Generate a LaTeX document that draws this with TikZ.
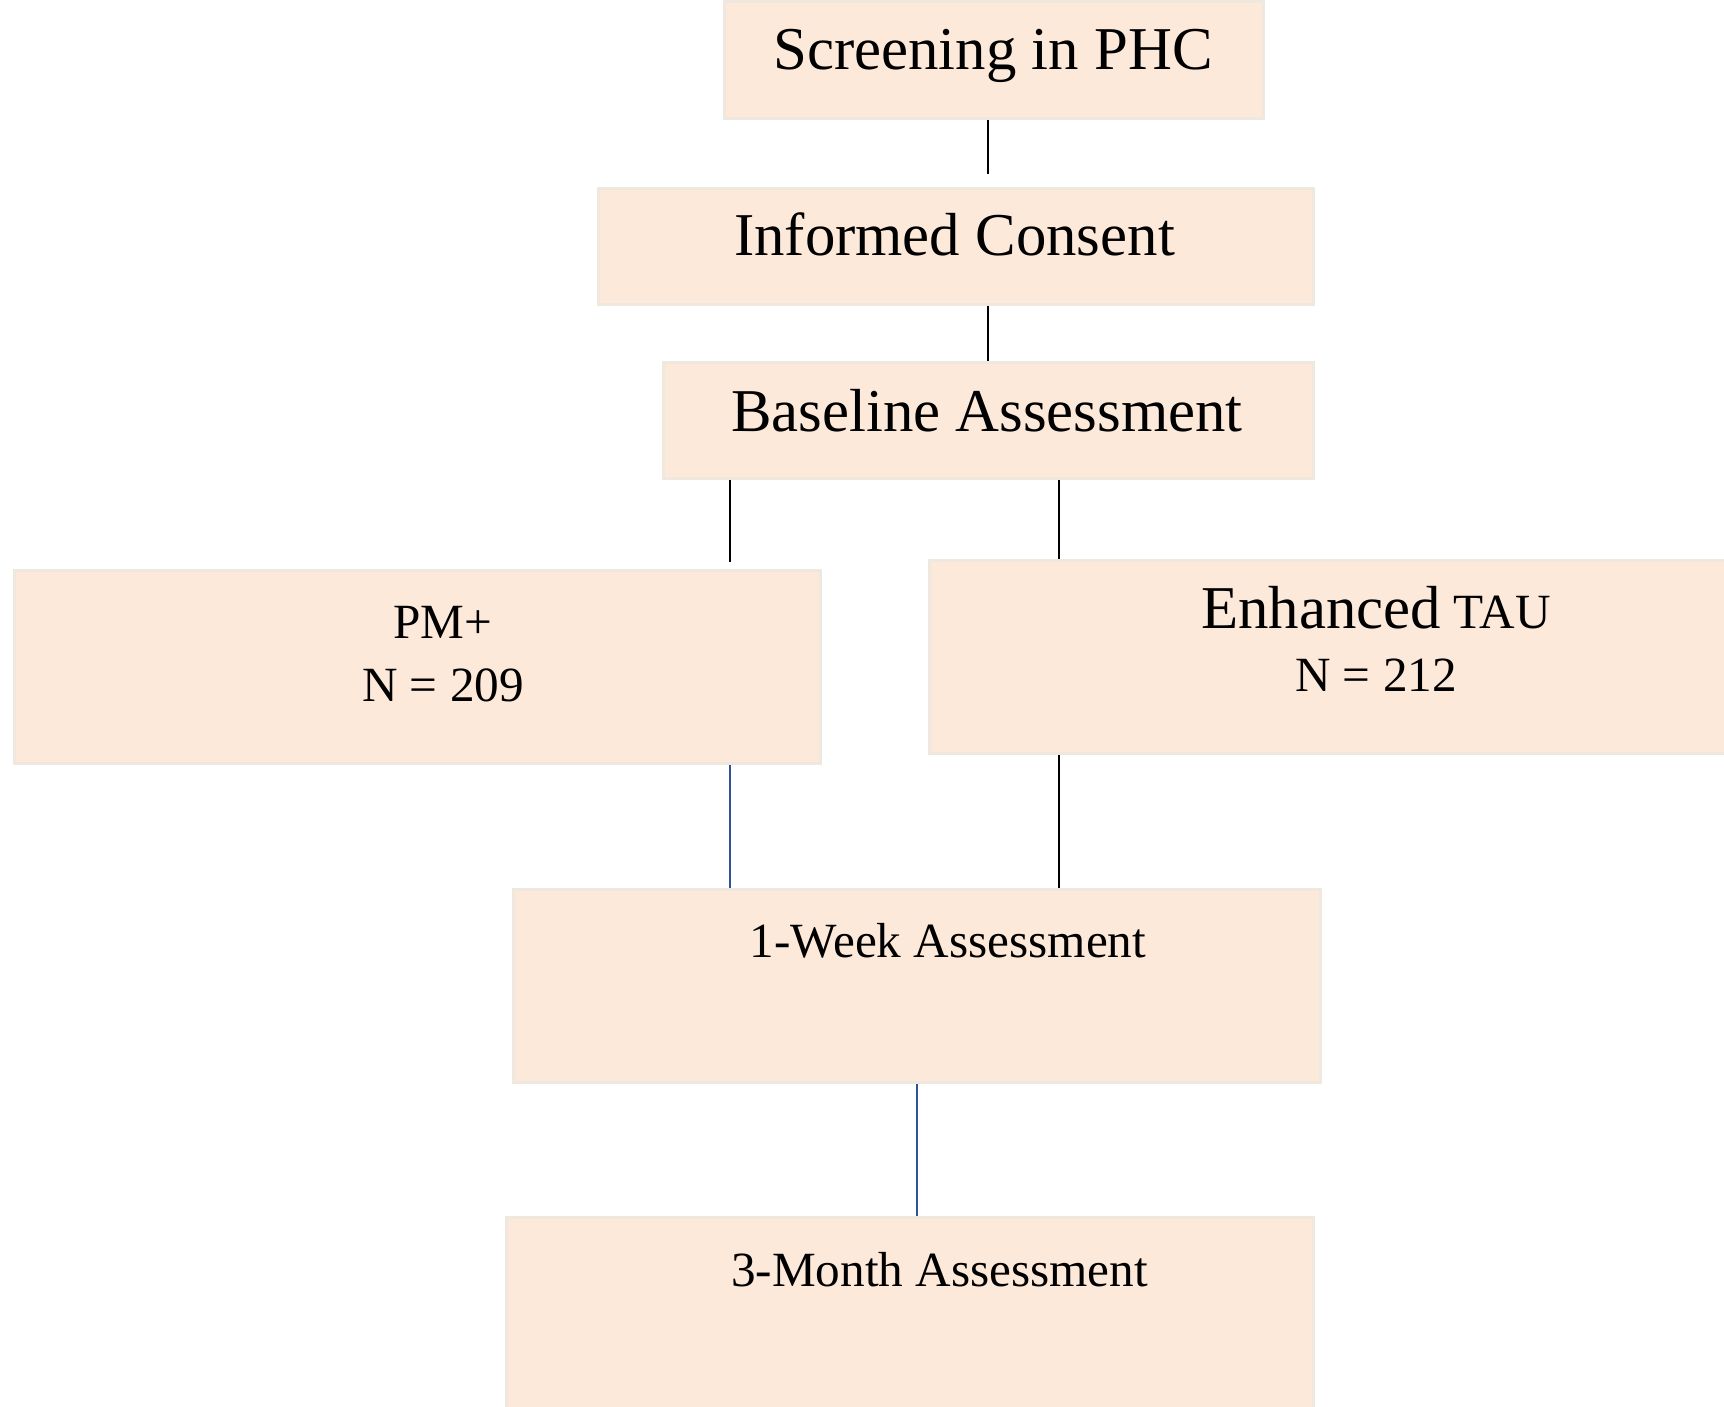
\documentclass[tikz,border=0pt]{standalone}
\usepackage{fontspec}
\setmainfont{Liberation Serif}
\usetikzlibrary{calc}
\definecolor{boxfill}{RGB}{252,233,218}
\definecolor{boxedge}{RGB}{238,232,222}
\definecolor{linkblue}{RGB}{47,84,150}
\tikzset{>=latex}
\tikzset{
	stage/.style={draw=boxedge, line width=0.8pt, fill=boxfill, inner sep=0pt, anchor=north west},
	link/.style={draw=black, line width=0.6pt},
	bluelink/.style={draw=linkblue, line width=0.7pt},
	bigtext/.style={font=\fontsize{17.3}{21}\selectfont, anchor=base},
	smalltext/.style={font=\fontsize{14}{18.2}\selectfont, anchor=base, align=center},
}

\begin{document}
\begin{tikzpicture}
		\useasboundingbox (0,0) rectangle (17.24,-14.07);
		\clip (0,0) rectangle (17.24,-14.07);
		\node[stage, minimum width=5.39cm, minimum height=1.17cm] (screen) at (7.23,0) {};
		\node[stage, minimum width=7.15cm, minimum height=1.16cm] (consent) at (5.97,-1.87) {};
		\node[stage, minimum width=6.50cm, minimum height=1.16cm] (base) at (6.62,-3.61) {};
		\node[stage, minimum width=8.06cm, minimum height=1.93cm] (pm) at (0.13,-5.69) {};
		\node[stage, minimum width=8.20cm, minimum height=1.93cm] (etau) at (9.28,-5.59) {};
		\node[stage, minimum width=8.07cm, minimum height=1.93cm] (week) at (5.12,-8.88) {};
		\node[stage, minimum width=8.07cm, minimum height=2.10cm] (month) at (5.05,-12.16) {};
		\coordinate (L) at (7.30,0);
		\coordinate (R) at (10.59,0);
		\node[bigtext] (screentxt) at (9.93,-0.70) {Screening in PHC};
		\node[bigtext] (consenttxt) at (9.545,-2.56) {Informed Consent};
		\node[bigtext] (basetxt) at (9.87,-4.32) {Baseline Assessment};
		\node[smalltext] (pmtxt) at (4.43,-7.02) {PM+\\N = 209};
		\node[smalltext] (etautxt) at (13.76,-6.92) {{\fontsize{17.3}{18.5}\selectfont Enhanced} TAU\\N = 212};
		\node[smalltext] (weektxt) at (9.48,-9.57) {1-Week Assessment};
		\node[smalltext] (monthtxt) at (9.395,-12.86) {3-Month Assessment};
		\draw[link, shorten >=1.3mm] (base.north |- screen.south) -- (base.north |- consent.north);
		\draw[link] (base.north |- consent.south) -- (base.north);
		\draw[link, shorten >=0.7mm] (base.south -| L) -- (pm.north -| L);
		\draw[link] (base.south -| R) -- (etau.north -| R);
		\draw[bluelink] (pm.south -| L) -- (week.north -| L);
		\draw[link] (etau.south -| R) -- (week.north -| R);
		\draw[bluelink] (week.south) -- (week.south |- month.north);
\end{tikzpicture}
\end{document}
